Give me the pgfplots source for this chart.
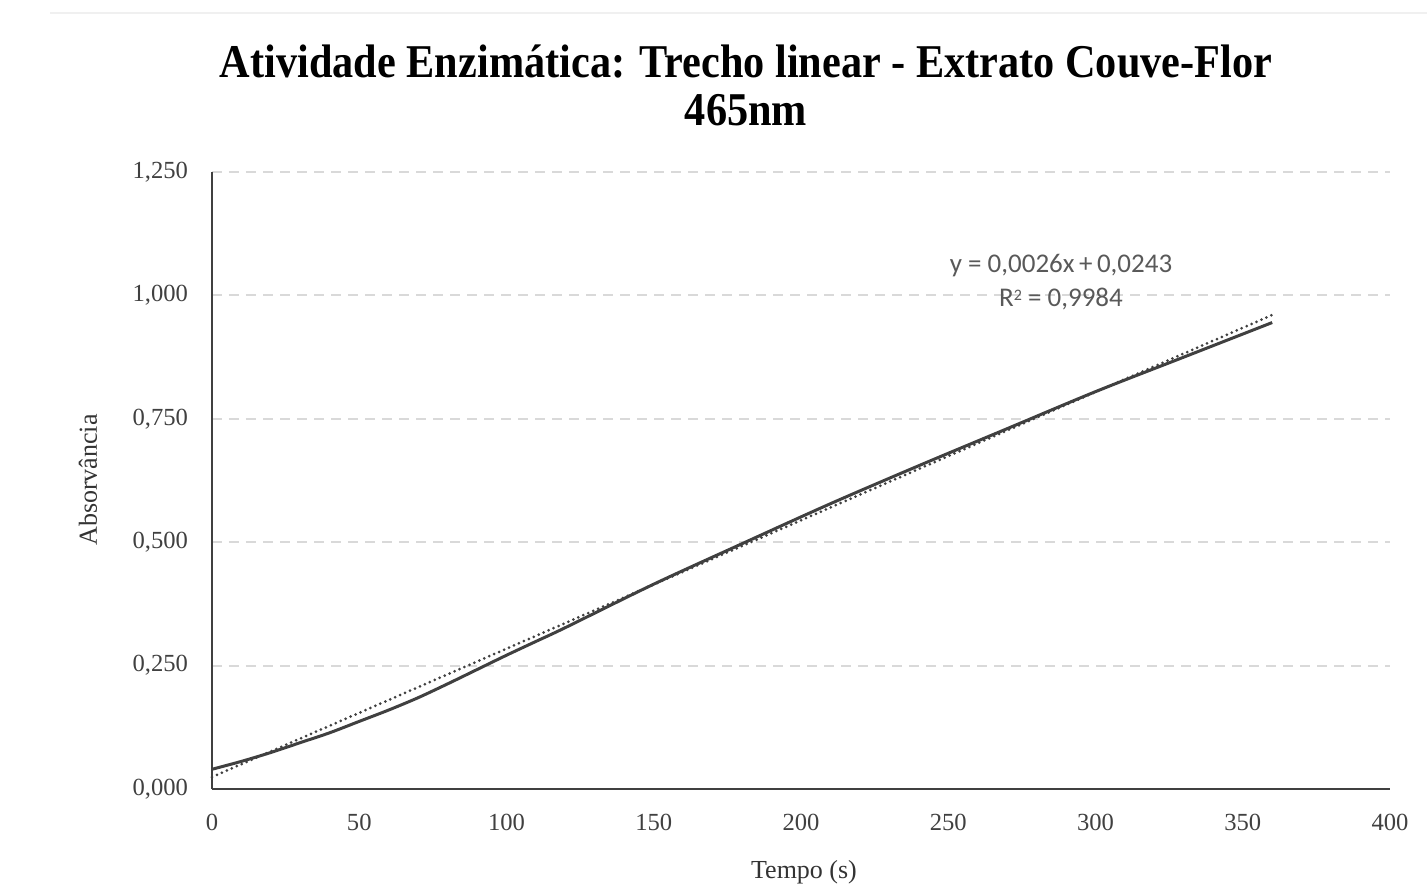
\documentclass[border=0pt]{standalone}
\usepackage{fontspec}
\setmainfont{Liberation Serif}
\newfontfamily\calib{Carlito}
\newfontfamily\titlefont[FakeStretch=0.9]{Liberation Serif}
\usepackage{pgfplots}
\pgfplotsset{compat=1.18}
\definecolor{lineg}{HTML}{404040}
\definecolor{gridg}{HTML}{D9D9D9}
\definecolor{txtg}{HTML}{595959}
\begin{document}
\begin{tikzpicture}
\useasboundingbox (-106pt,-50pt) rectangle (607.5pt,394.5pt);
\draw[black!6, line width=0.8pt] (-81pt,388pt) -- (607.5pt,388pt);
\begin{axis}[
  at={(0pt,0pt)}, anchor=origin,
  scale only axis, width=589pt, height=308.5pt,
  xmin=0, xmax=400, ymin=0, ymax=1.25,
  axis x line*=bottom, axis y line*=left,
  axis line style={lineg, line width=1.4pt},
  x axis line style={-}, y axis line style={-},
  xtick={0,50,...,400},
  ytick={0,0.25,0.5,0.75,1,1.25},
  yticklabels={{0,000},{0,250},{0,500},{0,750},{1,000},{1,250}},
  major tick length=0pt,
  ymajorgrids, grid style={gridg, line width=0.9pt, dash pattern=on 5pt off 3.5pt},
  tick label style={font=\fontsize{12.3}{14}\selectfont, text=black!75},
  /pgf/number format/assume math mode=true,
  xticklabel style={yshift=-9pt},
  yticklabel style={xshift=-8.5pt},
  clip=false,
]
\addplot[lineg, line width=1.5pt, smooth] coordinates {
(0,0.040) (10,0.056) (20,0.074) (30,0.094) (40,0.114) (50,0.137) (60,0.160) (70,0.185) (80,0.213) (90,0.242) (100,0.271) (110,0.299) (120,0.327) (150,0.415) (180,0.497) (210,0.578) (240,0.655) (270,0.730) (300,0.805) (330,0.875) (360,0.945)
};
\addplot[lineg, line width=1.5pt, line cap=round, dash pattern=on 0pt off 2.7pt] coordinates {(0,0.0243) (360,0.9603)};
\end{axis}
\node[font=\titlefont\bfseries\fontsize{23.5}{27}\selectfont] at (267pt,363.5pt) {Atividade Enzimática: Trecho linear - Extrato Couve-Flor};
\node[font=\titlefont\bfseries\fontsize{23.5}{27}\selectfont] at (267pt,339.5pt) {465nm};
\node[rotate=90, font=\fontsize{13}{15}\selectfont, text=black!80] at (-62pt,154.5pt) {Absorvância};
\node[font=\fontsize{13}{15}\selectfont, text=black!80] at (296pt,-41.5pt) {Tempo (s)};
\node[font=\calib\fontsize{13.5}{15}\selectfont, text=txtg] at (424.5pt,261.5pt) {y = 0,0026x\,+\,0,0243};
\node[font=\calib\fontsize{13.5}{15}\selectfont, text=txtg] at (424.5pt,245pt) {R\raisebox{0.45ex}{\fontsize{8}{9}\selectfont 2} = 0,9984};
\end{tikzpicture}
\end{document}
